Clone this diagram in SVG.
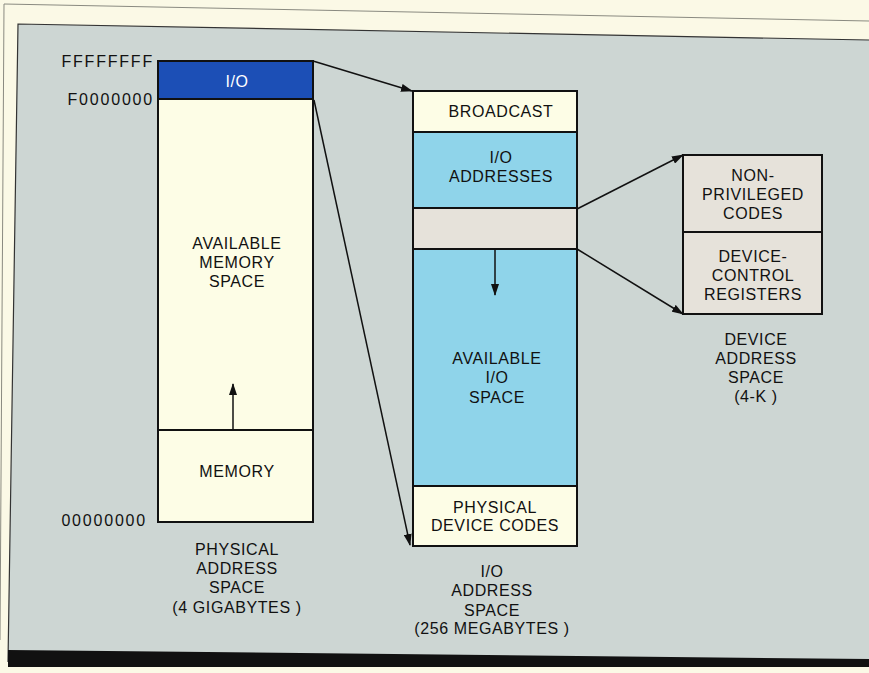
<svg xmlns="http://www.w3.org/2000/svg" width="869" height="673" viewBox="0 0 869 673">
<style>
text{font-family:"Liberation Sans",Arial,sans-serif;font-size:16px;letter-spacing:0.6px;fill:#111;text-anchor:middle}
.hex{text-anchor:end;letter-spacing:1.8px;font-size:16px}
.box{stroke:#111;stroke-width:2}
.ln{stroke:#111;stroke-width:1.5;fill:none}
.cream{fill:#fdfde6}
.lblue{fill:#8fd4ea}
.gband{fill:#e6e2da}
</style>
<defs>
<marker id="ah" viewBox="0 0 12 8" refX="11" refY="4" markerWidth="12" markerHeight="8" markerUnits="userSpaceOnUse" orient="auto">
<path d="M0,0 L12,4 L0,8 Z" fill="#111"/>
</marker>
</defs>
<rect x="0" y="0" width="869" height="673" fill="#fbf9e6"/>
<polyline points="0,640 4,4 869,21" fill="none" stroke="#8a8a80" stroke-width="1"/>
<polygon points="18,24 869,40 869,662 8,662" fill="#cdd6d3"/>
<polyline points="8,662 18,24 869,40" fill="none" stroke="#333" stroke-width="1.2"/>
<polygon points="8,650 869,659 869,667 8,667" fill="#111"/>

<g id="labels-hex">
<text class="hex" x="154" y="67">FFFFFFFF</text>
<text class="hex" x="154" y="105">F0000000</text>
<text class="hex" x="147" y="526">00000000</text>
</g>

<g id="physical-space">
<rect class="box cream" x="158" y="61" width="155" height="461"/>
<rect class="box" x="158" y="61" width="155" height="38" fill="#1c4fb6"/>
<line class="box" x1="158" y1="430" x2="313" y2="430"/>
<text x="237" y="87" style="fill:#fff">I/O</text>
<text x="237" y="249">AVAILABLE</text>
<text x="237" y="268">MEMORY</text>
<text x="237" y="287">SPACE</text>
<text x="237" y="477">MEMORY</text>
<text x="237" y="555">PHYSICAL</text>
<text x="237" y="574">ADDRESS</text>
<text x="237" y="593">SPACE</text>
<text x="237" y="613">(4 GIGABYTES )</text>
</g>

<g id="io-space">
<rect class="box cream" x="413" y="91" width="164" height="41"/>
<rect class="box lblue" x="413" y="132" width="164" height="76"/>
<rect class="box gband" x="413" y="208" width="164" height="41"/>
<rect class="box lblue" x="413" y="249" width="164" height="237"/>
<rect class="box cream" x="413" y="486" width="164" height="60"/>
<text x="501" y="117">BROADCAST</text>
<text x="501" y="163">I/O</text>
<text x="501" y="182">ADDRESSES</text>
<text x="497" y="364">AVAILABLE</text>
<text x="497" y="383">I/O</text>
<text x="497" y="403">SPACE</text>
<text x="495" y="513">PHYSICAL</text>
<text x="495" y="531">DEVICE CODES</text>
<text x="492" y="577">I/O</text>
<text x="492" y="596">ADDRESS</text>
<text x="492" y="616">SPACE</text>
<text x="492" y="634">(256 MEGABYTES )</text>
</g>

<g id="device-space">
<rect class="box gband" x="683" y="155" width="139" height="159"/>
<line class="box" x1="683" y1="232" x2="822" y2="232"/>
<text x="753" y="181">NON-</text>
<text x="753" y="200">PRIVILEGED</text>
<text x="753" y="219">CODES</text>
<text x="753" y="262">DEVICE-</text>
<text x="753" y="281">CONTROL</text>
<text x="753" y="300">REGISTERS</text>
<text x="756" y="345">DEVICE</text>
<text x="756" y="364">ADDRESS</text>
<text x="756" y="383">SPACE</text>
<text x="756" y="402">(4-K )</text>
</g>

<g id="connectors">
<line class="ln" x1="313" y1="61" x2="412" y2="91" marker-end="url(#ah)"/>
<line class="ln" x1="314" y1="100" x2="410" y2="545" marker-end="url(#ah)"/>
<line class="ln" x1="577" y1="209" x2="683" y2="155" marker-end="url(#ah)"/>
<line class="ln" x1="577" y1="249" x2="683" y2="314" marker-end="url(#ah)"/>
<line class="ln" x1="233" y1="430" x2="233" y2="384" marker-end="url(#ah)"/>
<line class="ln" x1="495" y1="249" x2="495" y2="295" marker-end="url(#ah)"/>
</g>
</svg>
